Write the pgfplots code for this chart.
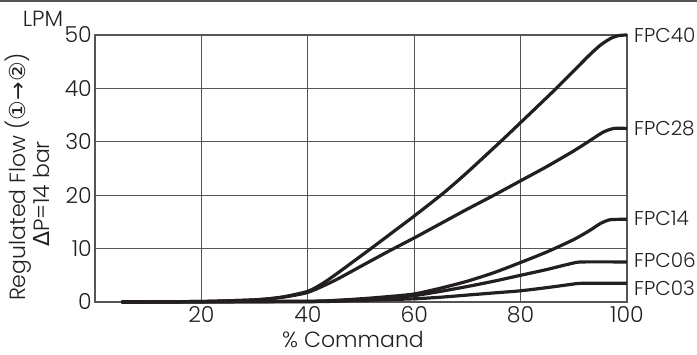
\documentclass[border=0pt]{standalone}
\usepackage{fontspec}
\setmainfont{Poppins Light}
\newfontfamily\symfont{DejaVu Sans}
\usepackage{pgfplots}
\pgfplotsset{compat=1.18}
\definecolor{ink}{HTML}{231F20}
\definecolor{gridc}{HTML}{555555}

\begin{document}
\begin{tikzpicture}[x=1pt,y=1pt,font=\fontsize{22}{26}\selectfont,text=ink]
\useasboundingbox (0,0) rectangle (697,354);
\draw[gridc, line width=1.6pt] (0,353.2) -- (697,353.2);
\node[anchor=base, inner sep=0pt] at (43,327) {LPM};
\node[rotate=90, anchor=base, inner sep=0pt] at (26,177) {Regulated Flow ({\symfont ①→②})};
\node[rotate=90, anchor=base, inner sep=0pt] at (50,160) {{\symfont Δ}P=14 bar};
\node[anchor=base, inner sep=0pt] at (353,7) {\% Command};
\begin{axis}[
  at={(95pt,52pt)}, anchor=south west,
  scale only axis, width=532pt, height=267pt,
  xmin=0, xmax=100, ymin=0, ymax=50,
  xtick={20,40,60,80,100}, ytick={0,10,20,30,40,50},
  grid=major, grid style={gridc, line width=0.9pt},
  axis line style={gridc, line width=1.1pt},
  major tick style={draw=none},
  /pgf/number format/assume math mode=true,
  xticklabel style={anchor=base, inner sep=0pt, yshift=-20pt},
  yticklabel style={anchor=east, inner sep=0pt, xshift=-3pt},
  clip=false,
  curve/.style={ink, no markers, line width=3.2pt, line join=round, line cap=butt, smooth, tension=0.4},
]
% FPC40
\addplot[curve] coordinates {(5,0) (20,0.1) (30,0.4) (35,0.9) (40,2.0) (43,3.6) (46,5.7) (49,7.9) (52,10.1) (56,13.1) (60,16.1) (65.5,20.4) (70,24.3) (76.3,30.1) (80,33.6) (86.6,39.9) (90,43.3) (93,46.3) (95,48.1) (97,49.4) (98.5,49.9) (100,50)};
% FPC28
\addplot[curve] coordinates {(5,0) (20,0.1) (30,0.4) (35,0.85) (40,1.8) (45,4.0) (50,6.7) (55,9.4) (60,12.0) (65,14.7) (70,17.4) (75,20.0) (80,22.7) (85,25.4) (90,28.3) (93,30.2) (95.5,31.8) (97.5,32.5) (100,32.5)};
% FPC14
\addplot[curve] coordinates {(5,0) (40,0.15) (45,0.3) (50,0.6) (55,1.0) (60,1.5) (65,2.6) (70,3.9) (75,5.5) (80,7.4) (85,9.4) (90,11.7) (93,13.4) (95,14.7) (96.8,15.4) (100,15.5)};
% FPC06
\addplot[curve] coordinates {(5,0) (40,0.1) (50,0.5) (55,0.8) (60,1.2) (65,2.0) (70,2.9) (75,3.9) (80,5.0) (85,6.1) (89.5,7.2) (91.5,7.5) (100,7.5)};
% FPC03
\addplot[curve] coordinates {(5,0) (40,0.05) (50,0.3) (60,0.6) (65,0.9) (70,1.3) (75,1.7) (80,2.1) (85,2.7) (89.5,3.3) (91.5,3.5) (100,3.5)};
\begin{scope}[every node/.style={anchor=west, inner sep=0pt, xshift=7pt, font=\fontsize{20}{24}\selectfont}]
\node at (axis cs:100,50) {FPC40};
\node at (axis cs:100,32.5) {FPC28};
\node at (axis cs:100,15.6) {FPC14};
\node at (axis cs:100,7.8) {FPC06};
\node at (axis cs:100,2.6) {FPC03};
\end{scope}
\end{axis}
\end{tikzpicture}
\end{document}
